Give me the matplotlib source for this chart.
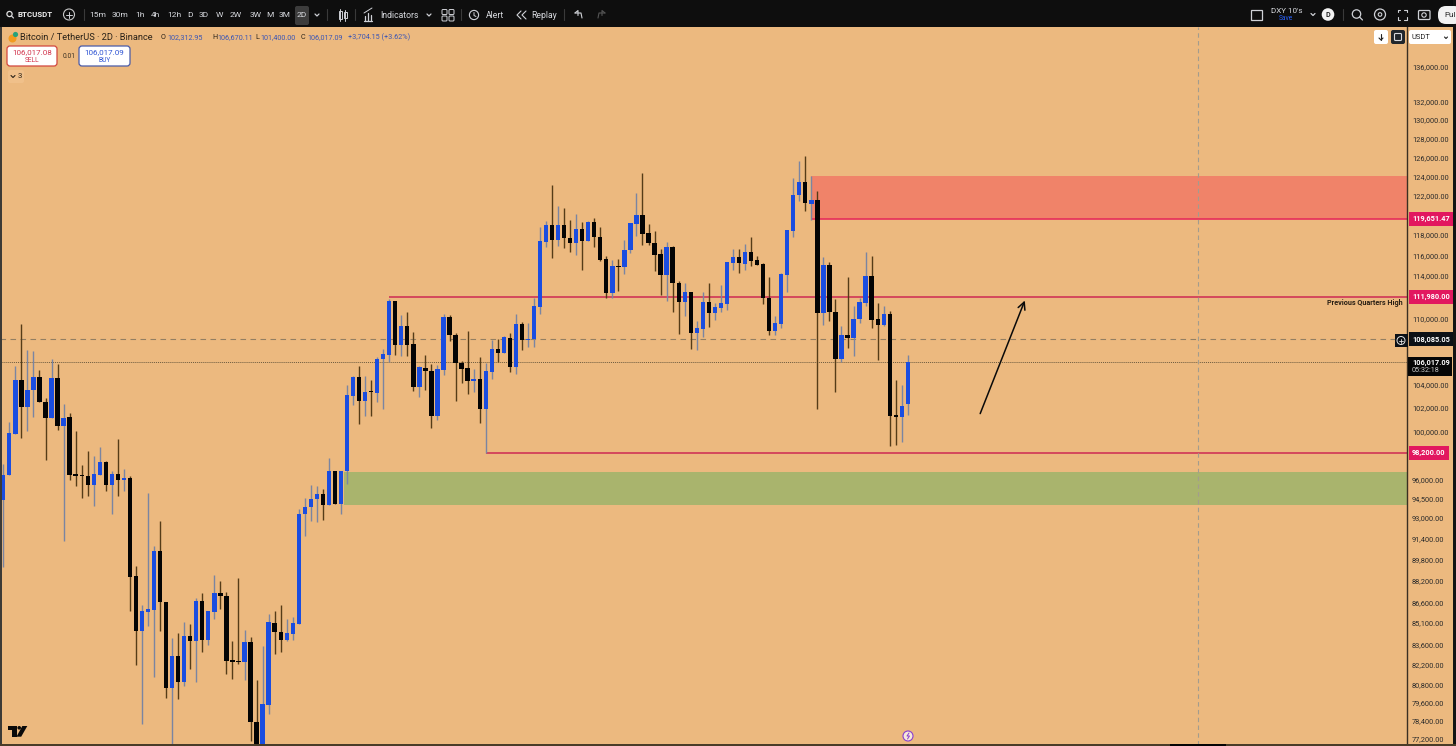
import matplotlib
matplotlib.use("Agg")
import matplotlib.pyplot as plt
from matplotlib.patches import Rectangle, Circle, FancyBboxPatch, Polygon

plt.rcParams["font.family"] = ["Roboto", "DejaVu Sans"]

# velas 2D BTCUSDT
opens = [94400, 96380, 99800, 104450, 102130, 103580, 104740, 102500, 101160, 104590,
         100450, 101210, 96500, 96420, 96340, 95630, 96440, 97450, 95630, 96520,
         96040, 96140, 88570, 84560, 85925, 86070, 90460, 86650, 80570, 82800,
         80960, 84210, 83850, 86730, 83920, 85920, 87310, 87090, 82520, 82450,
         82360, 83760, 78320, 76500, 79450, 85130, 84490, 83900, 84320, 85040,
         93300, 93820, 94510, 94890, 94030, 96770, 94085, 96710, 103080, 104680,
         102650, 103460, 103320, 106260, 106700, 111600, 107600, 109340, 107670, 103800,
         105540, 105270, 101360, 105360, 110170, 108520, 105960, 105480, 104390, 104540,
         101960, 105190, 107240, 106880, 108220, 105570, 109500, 108030, 108120, 111100,
         117360, 119020, 117560, 119050, 117730, 117240, 118640, 117460, 119280, 117850,
         115660, 112360, 115010, 114850, 116540, 119120, 120060, 118250, 117260, 116150,
         114110, 116840, 113380, 111580, 112490, 108670, 109070, 111580, 110480, 110980,
         111390, 115300, 115820, 115200, 116370, 115560, 115180, 111920, 108850, 109500,
         114140, 118450, 122070, 123420, 121130, 121590, 110480, 115110, 110610, 106260,
         108520, 108180, 109960, 111480, 113980, 109930, 109400, 110420, 101440, 101210,
         102312.95]
highs = [97310, 100790, 105720, 109500, 107130, 107000, 105360, 102880, 106320, 105870,
         102360, 101590, 100030, 97230, 98410, 98000, 98740, 97590, 96770, 99390,
         96910, 96360, 89320, 86440, 94965, 90840, 92720, 86650, 84040, 84400,
         85210, 85040, 86900, 87290, 86000, 88650, 88150, 87390, 83850, 88400,
         84610, 84090, 81120, 83500, 85760, 86000, 86410, 85400, 85520, 93690,
         94570, 95630, 95530, 95290, 97810, 96770, 96770, 104040, 104830, 105660,
         104830, 104450, 106460, 107220, 111830, 111600, 110330, 110570, 108790, 105720,
         106700, 105870, 105810, 110420, 110330, 108670, 106170, 108880, 105420, 106460,
         105920, 108030, 108120, 108360, 108670, 110420, 109650, 109590, 111890, 118780,
         119390, 123130, 120900, 120700, 119560, 120130, 119280, 119460, 119730, 118780,
         115910, 115590, 115660, 117530, 119220, 122280, 124350, 119120, 118450, 116640,
         117330, 116970, 113500, 113350, 112520, 109800, 112450, 113310, 111420, 113180,
         115400, 116640, 116640, 117130, 117850, 115980, 115240, 113880, 110200, 114270,
         118550, 123780, 125580, 126150, 124070, 122510, 115820, 115330, 111830, 109280,
         113880, 111200, 111890, 116300, 115980, 111450, 111130, 110660, 104480, 104010,
         106670.11]
lows = [89200, 96380, 99800, 99470, 100030, 101210, 102500, 97650, 101160, 100170,
        91170, 96040, 95530, 94570, 94750, 93950, 96440, 95090, 93300, 94750,
        95090, 85950, 82170, 78170, 84920, 81350, 84560, 79900, 76860, 79830,
        80680, 81880, 81000, 83080, 83550, 85400, 86140, 81530, 81190, 82220,
        81120, 77080, 76500, 76500, 78830, 82920, 83030, 83850, 83900, 85040,
        91560, 92780, 92640, 92830, 94030, 94085, 93300, 95680, 102270, 100650,
        101300, 101300, 102560, 101900, 106010, 106700, 106550, 106610, 103510, 102930,
        103600, 100280, 100990, 104890, 107970, 102590, 104190, 103230, 103370, 100700,
        98200, 104540, 106010, 106820, 105120, 104980, 107130, 107360, 107360, 110420,
        116800, 115720, 116960, 116700, 116370, 116050, 114620, 117390, 116870, 115430,
        111920, 111920, 112550, 114210, 116210, 117880, 117060, 117060, 114530, 112230,
        111600, 110570, 108600, 110270, 107220, 107130, 108330, 109180, 109900, 110570,
        110820, 114590, 114300, 114590, 114940, 115080, 111360, 108520, 108520, 109090,
        112520, 117850, 121430, 120470, 119560, 101900, 109430, 109800, 103400, 106010,
        107270, 106550, 109590, 111130, 109090, 106230, 109280, 98830, 98880, 99160,
        101400]
closes = [96440, 99860, 104450, 102130, 103600, 104740, 102500, 101160, 104590, 100450,
          101190, 96440, 96360, 96340, 95630, 96470, 97450, 95630, 96520, 96010,
          96140, 88500, 84560, 85950, 86145, 90460, 86650, 80570, 82800, 80960,
          84210, 83850, 86730, 83920, 85950, 87290, 87090, 82450, 82380, 82360,
          83760, 78270, 76500, 79500, 85150, 84440, 83900, 84370, 85080, 93300,
          93880, 94510, 94890, 94030, 96770, 94085, 96710, 103140, 104680, 102650,
          103400, 103370, 106320, 106770, 111600, 107600, 109340, 107600, 103800, 105570,
          105250, 101360, 105420, 110170, 108490, 105920, 105420, 104390, 104540, 101960,
          105210, 107240, 106880, 108270, 105570, 109500, 108060, 108120, 111130, 117390,
          119020, 117560, 119050, 117690, 117240, 118640, 117460, 119280, 117850, 115590,
          112360, 114980, 114850, 116570, 119180, 120060, 118120, 117240, 116080, 114110,
          116840, 113310, 111580, 112490, 108700, 109090, 111580, 110480, 111040, 111420,
          115370, 115860, 115240, 116370, 115500, 115110, 111890, 108850, 109550, 114210,
          118520, 122100, 123420, 121200, 121590, 110480, 115110, 110570, 106260, 108520,
          108180, 109960, 111510, 113980, 109900, 109430, 110420, 101360, 101210, 102210,
          106017.09]

tick_prices = [136000, 132000, 130000, 128000, 126000, 124000, 122000, 120000, 118000,
               116000, 114000, 110000, 104000, 102000, 100000, 96000, 94500, 93000,
               91400, 89800, 88200, 86600, 85100, 83600, 82200, 80800, 79600, 78400, 77200]

zona_roja = (119651.47, 124000)
zona_verde = (94030, 96690)
nivel_alto = 111980
nivel_bajo = 98200
precio_dash = 108085.05
precio_last = 106017.09

BG = "#ecb97f"
BLUE = "#1a4de0"
BLACK = "#040404"
PINK = "#e2175f"
LINE = "#d2405a"
W, H = 1456, 746

fig = plt.figure(figsize=(W / 100, H / 100), dpi=100, facecolor=BG)
# area de precio: x 0-1407, y 27-745 en pixeles
ax = fig.add_axes([0, (H - 745) / H, 1407 / W, 718 / H], facecolor=BG)
ax.set_yscale("log")
ax.set_ylim(76795, 140610)
ax.set_xlim(-0.547, 232.78)

idx = list(range(len(opens)))
up = [c >= o for o, c in zip(opens, closes)]
wick_col = ["#7a85a2" if u else "#553c18" for u in up]
body_col = [BLUE if u else BLACK for u in up]

# zonas y niveles
last_x = 232.78
ax.add_patch(Rectangle((134, zona_roja[0]), last_x - 134, zona_roja[1] - zona_roja[0], fc="#f08369", ec="none", zorder=1))
ax.add_patch(Rectangle((56.5, zona_verde[0]), last_x - 56.5, zona_verde[1] - zona_verde[0], fc="#a9b46d", ec="none", zorder=1))
ax.hlines(zona_roja[0], 134, last_x, color="#e62e5c", lw=1.2, zorder=2)
ax.hlines(nivel_alto, 64, last_x, color=LINE, lw=1.3, zorder=2)
ax.hlines(nivel_bajo, 80, last_x, color=LINE, lw=1.3, zorder=2)
ax.axhline(precio_dash, color="#927f62", lw=0.8, ls=(0, (5, 4)), zorder=2)
ax.axhline(precio_last, color="#6b5a3e", lw=0.7, ls=(0, (1, 1)), zorder=2)
ax.axvline(198.1, color="#a39c8e", lw=0.8, ls=(0, (4, 3)), zorder=2)

# velas
ax.vlines(idx, lows, highs, colors=wick_col, lw=1.0, zorder=3)
ax.bar(idx, [max(abs(c - o), 60) for o, c in zip(opens, closes)],
       bottom=[min(o, c) for o, c in zip(opens, closes)],
       width=0.72, color=body_col, lw=0, zorder=4)

# flecha
ax.annotate("", xy=(169.4, 111670), xytext=(162, 101525),
            arrowprops=dict(arrowstyle="->", color="#0a0a0a", lw=1.1, mutation_scale=13, shrinkA=0, shrinkB=0), zorder=5)
ax.text(0.9972, nivel_alto * 0.9950, "Previous Quarters High", transform=ax.get_yaxis_transform(),
        ha="right", va="center", fontsize=5.2, fontweight="bold", color="#2a2015", zorder=5)

# eje de precios
ax.yaxis.tick_right()
ax.set_yticks(tick_prices)
ax.set_yticklabels(["{:,.2f}".format(p) for p in tick_prices], fontsize=5.3, color="#2b2b2b")
ax.minorticks_off()
ax.tick_params(axis="y", which="both", length=0, pad=3.6)
ax.set_xticks([])
for s in ["top", "left", "bottom"]:
    ax.spines[s].set_visible(False)
ax.spines["right"].set_color("#3a2f22")
ax.spines["right"].set_linewidth(1.0)

# etiquetas de precio
for p, txt, col in [(zona_roja[0], "119,651.47", PINK), (nivel_alto, "111,980.00", PINK),
                    (nivel_bajo, "98,200.00", PINK), (precio_dash, "108,085.05", "#0c1016")]:
    ax.text(1.0036, p, txt, transform=ax.get_yaxis_transform(), ha="left", va="center", fontsize=5.3,
            fontweight="bold", color="white", clip_on=False, zorder=6,
            bbox=dict(fc=col, ec="none", boxstyle="square,pad=0.42"))

# capa en pixeles: barra superior, botones, logos
ov = fig.add_axes([0, 0, 1, 1], facecolor="none")
ov.set_xlim(0, W)
ov.set_ylim(H, 0)
ov.axis("off")


def rect(x0, y0, x1, y1, fc, ec="none", lw=0, z=1):
    ov.add_patch(Rectangle((x0, y0), x1 - x0, y1 - y0, fc=fc, ec=ec, lw=lw, zorder=z))


def rbox(x0, y0, x1, y1, fc, ec="none", lw=0, r=2, z=1):
    ov.add_patch(FancyBboxPatch((x0 + r, y0 + r), x1 - x0 - 2 * r, y1 - y0 - 2 * r,
                                boxstyle="round,pad={},rounding_size={}".format(r, r), fc=fc, ec=ec, lw=lw, zorder=z))


def label(x, y, s, size=6.6, color="#d8dadf", weight="normal", ha="left"):
    ov.text(x, y, s, fontsize=size, color=color, fontweight=weight, ha=ha, va="center", zorder=5)


def line(xs, ys, color="#cfd1d6", lw=0.9):
    ov.plot(xs, ys, color=color, lw=lw, zorder=5, solid_capstyle="round")


TOOL = "#0e0e0e"
rect(0, 0, W, 27, TOOL)
rect(1453, 0, W, H, "#141414")
rect(0, 27, 1.5, H, "#3c3a36")
rect(0, 744, W, H, "#4a3c28")
rect(1170, 744, 1226, H, "#050505")

# barra superior
ov.add_patch(Circle((9.5, 14), 2.6, fc="none", ec="#e0e0e0", lw=0.9, zorder=5))
line([11.5, 13.5], [16, 18])
label(18, 14.5, "BTCUSDT", 5.7, "#f0f0f0", "bold")
ov.add_patch(Circle((69, 14.5), 5.5, fc="none", ec="#c8c8c8", lw=0.8, zorder=5))
line([66, 72], [14.5, 14.5], lw=0.7)
line([69, 69], [11.5, 17.5], lw=0.7)
line([83.5, 83.5], [9, 20], "#3a3a3a", 0.8)
rbox(295, 6, 309, 25, "#3c3c3c", r=2, z=2)
times = ["15m", "30m", "1h", "4h", "12h", "D", "3D", "W", "2W", "3W", "M", "3M", "2D"]
times_x = [97.5, 120, 140, 155.5, 174, 190, 204, 219.5, 235.5, 256, 270, 285, 302]
for tx, tl in zip(times_x, times):
    ov.text(tx, 15, tl, fontsize=6, color="#d8dadf", ha="center", va="center", zorder=5)
line([315, 317, 319], [14, 16, 14])
for sx in [327, 355, 461, 564]:
    line([sx, sx], [9, 20], "#3a3a3a", 0.8)
rect(338.5, 11, 341.5, 19, "none", "#cfd1d6", 0.7, 5)
rect(343.5, 12, 346.5, 18, "none", "#cfd1d6", 0.7, 5)
line([340, 340], [8.5, 21], lw=0.7)
line([345, 345], [9.5, 20.5], lw=0.7)
line([364, 372], [21, 21])
line([365, 365], [21, 16])
line([368, 368], [21, 13])
line([371, 371], [21, 15])
line([364, 372], [13, 8], lw=0.7)
label(380, 15.5, "Indicators", 6.2)
line([427, 429, 431], [14, 16, 14])
for gx, gy in [(442, 9.5), (449, 9.5), (442, 16), (449, 16)]:
    rbox(gx, gy, gx + 5, gy + 5, "none", "#cfd1d6", 0.7, r=1, z=5)
ov.add_patch(Circle((474, 15), 4.6, fc="none", ec="#cfd1d6", lw=0.8, zorder=5))
line([474, 474, 476], [12.5, 15.5, 16.5], lw=0.7)
label(486, 15.5, "Alert", 6.2)
line([521, 517, 521], [11, 15, 19], lw=0.8)
line([526, 522, 526], [11, 15, 19], lw=0.8)
label(531, 15.5, "Replay", 6.2)
line([575, 578, 578], [13, 10.5, 15.5], lw=0.8)
line([575, 581, 582], [13, 13, 18], lw=0.8)
line([605, 602, 602], [13, 10.5, 15.5], "#555555", 0.8)
line([605, 599, 598], [13, 13, 18], "#555555", 0.8)

rect(1251, 9.5, 1262, 20, "none", "#cfd1d6", 0.9, 5)
label(1271, 11, "DXY 10's", 5.8)
label(1279, 19, "Save", 4.8, "#2962ff")
line([1311, 1313, 1315], [13.5, 15.5, 13.5])
ov.add_patch(Circle((1328, 14.5), 6.3, fc="#f2f2f2", ec="none", zorder=4))
ov.text(1328, 14.8, "D", fontsize=5.2, color="#222222", ha="center", va="center", fontweight="bold", zorder=5)
line([1343, 1343], [9, 20], "#3a3a3a", 0.8)
ov.add_patch(Circle((1356.5, 14), 4.2, fc="none", ec="#cfd1d6", lw=0.9, zorder=5))
line([1359.5, 1362.5], [17, 20])
ov.add_patch(Circle((1380, 14.5), 5.5, fc="none", ec="#cfd1d6", lw=0.9, zorder=5))
ov.add_patch(Circle((1380, 14.5), 1.8, fc="none", ec="#cfd1d6", lw=0.8, zorder=5))
for cx, cy, dx, dy in [(1397.5, 9.5, 1, 1), (1406.5, 9.5, -1, 1), (1397.5, 19.5, 1, -1), (1406.5, 19.5, -1, -1)]:
    line([cx + 2.5 * dx, cx, cx], [cy, cy, cy + 2.5 * dy], lw=0.8)
rbox(1418.5, 10.5, 1430, 19.5, "none", "#cfd1d6", 0.9, r=1, z=5)
ov.add_patch(Circle((1424, 15), 2.2, fc="none", ec="#cfd1d6", lw=0.8, zorder=5))
rbox(1438, 6, 1462, 24, "#f2f2f2", r=8, z=3)
label(1444, 15, "Pul", 5.8, "#222222")

# cabecera
ov.add_patch(Circle((12.5, 38.5), 4, fc="#f29a1f", ec="none", zorder=4))
ov.add_patch(Circle((15.5, 34.5), 2.6, fc="#26a17b", ec="none", zorder=4))
label(20, 37.5, "Bitcoin / TetherUS · 2D · Binance", 6.7, "#2a2218")
VAL = "#3a55b5"
for lx, ltxt, vx, vtxt in [(161, "O", 167, "102,312.95"), (212.5, "H", 217.5, "106,670.11"),
                           (255, "L", 260, "101,400.00"), (301, "C", 307, "106,017.09")]:
    label(lx, 37.5, ltxt, 5.2, "#2a2218")
    label(vx, 37.5, vtxt, 5.2, VAL)
label(348, 37.5, "+3,704.15 (+3.62%)", 5.2, VAL)
rbox(7, 46, 57, 66, "white", "#d2473f", 0.9, r=3, z=3)
ov.text(32, 52, "106,017.08", fontsize=5.8, color="#d2364e", ha="center", va="center", zorder=5)
ov.text(32, 61, "SELL", fontsize=4.8, color="#d2364e", ha="center", va="center", zorder=5)
label(63, 57, "0.01", 4.8, "#3a3022")
rbox(79, 46, 130, 66, "white", "#4a5ba8", 0.9, r=3, z=3)
ov.text(104.5, 52, "106,017.09", fontsize=5.8, color="#2f55d4", ha="center", va="center", zorder=5)
ov.text(104.5, 61, "BUY", fontsize=4.8, color="#2f55d4", ha="center", va="center", zorder=5)
rbox(8, 70, 24, 83, "#f0c08a", r=2, z=3)
line([11, 13, 15], [75.5, 77.5, 75.5], "#2a2218", 0.8)
label(18, 76.5, "3", 5.6, "#2a2218")

# botones arriba a la derecha
rbox(1374, 30, 1388, 44, "white", r=2, z=3)
line([1381, 1381], [33.5, 40], "#222222", 0.8)
line([1379, 1381, 1383], [38, 40, 38], "#222222", 0.8)
rbox(1391, 30, 1405, 44, "#20262c", r=2, z=3)
rbox(1394.5, 33.5, 1401.5, 40.5, "none", "#d8dadf", 0.8, r=1, z=5)
rbox(1409, 30, 1451, 44, "white", r=2, z=3)
label(1412, 37.5, "USDT", 5.4, "#222222")
line([1444.5, 1446, 1447.5], [37, 38.5, 37], "#222222", 0.8)

# ultimo precio y boton +
rect(1408, 357, 1452, 376, "#060606", z=3)
ov.text(1412, 362.5, "106,017.09", fontsize=5.3, color="white", fontweight="bold", va="center", zorder=5)
ov.text(1412, 371, "05:32:18", fontsize=5.2, color="#c8c8c8", va="center", zorder=5)
rect(1395, 334, 1408, 347, "#0c1016", z=3)
ov.add_patch(Circle((1401, 340.5), 4, fc="none", ec="#e0e0e0", lw=0.7, zorder=5))
line([1399, 1403], [340.5, 340.5], "#e0e0e0", 0.6)
line([1401, 1401], [338.5, 342.5], "#e0e0e0", 0.6)

# logo TV y rayo
ov.add_patch(Polygon([(8.3, 726), (16.5, 726), (16.5, 736.7), (12, 736.7), (12, 729.6), (8.3, 729.6)], fc="#0a0a0a", ec="none", zorder=5))
ov.add_patch(Circle((19.2, 727.8), 1.8, fc="#0a0a0a", ec="none", zorder=5))
ov.add_patch(Polygon([(16.5, 736.7), (22.3, 726), (27.3, 726), (21.2, 736.7)], fc="#0a0a0a", ec="none", zorder=5))
ov.add_patch(Circle((908, 736), 5, fc="#f7e9da", ec="#8a3fd0", lw=0.8, zorder=5))
line([909, 907, 909.5, 907.5], [733, 736, 736, 739], "#8a3fd0", 0.7)

fig.savefig("out.png", dpi=100, facecolor=BG)
